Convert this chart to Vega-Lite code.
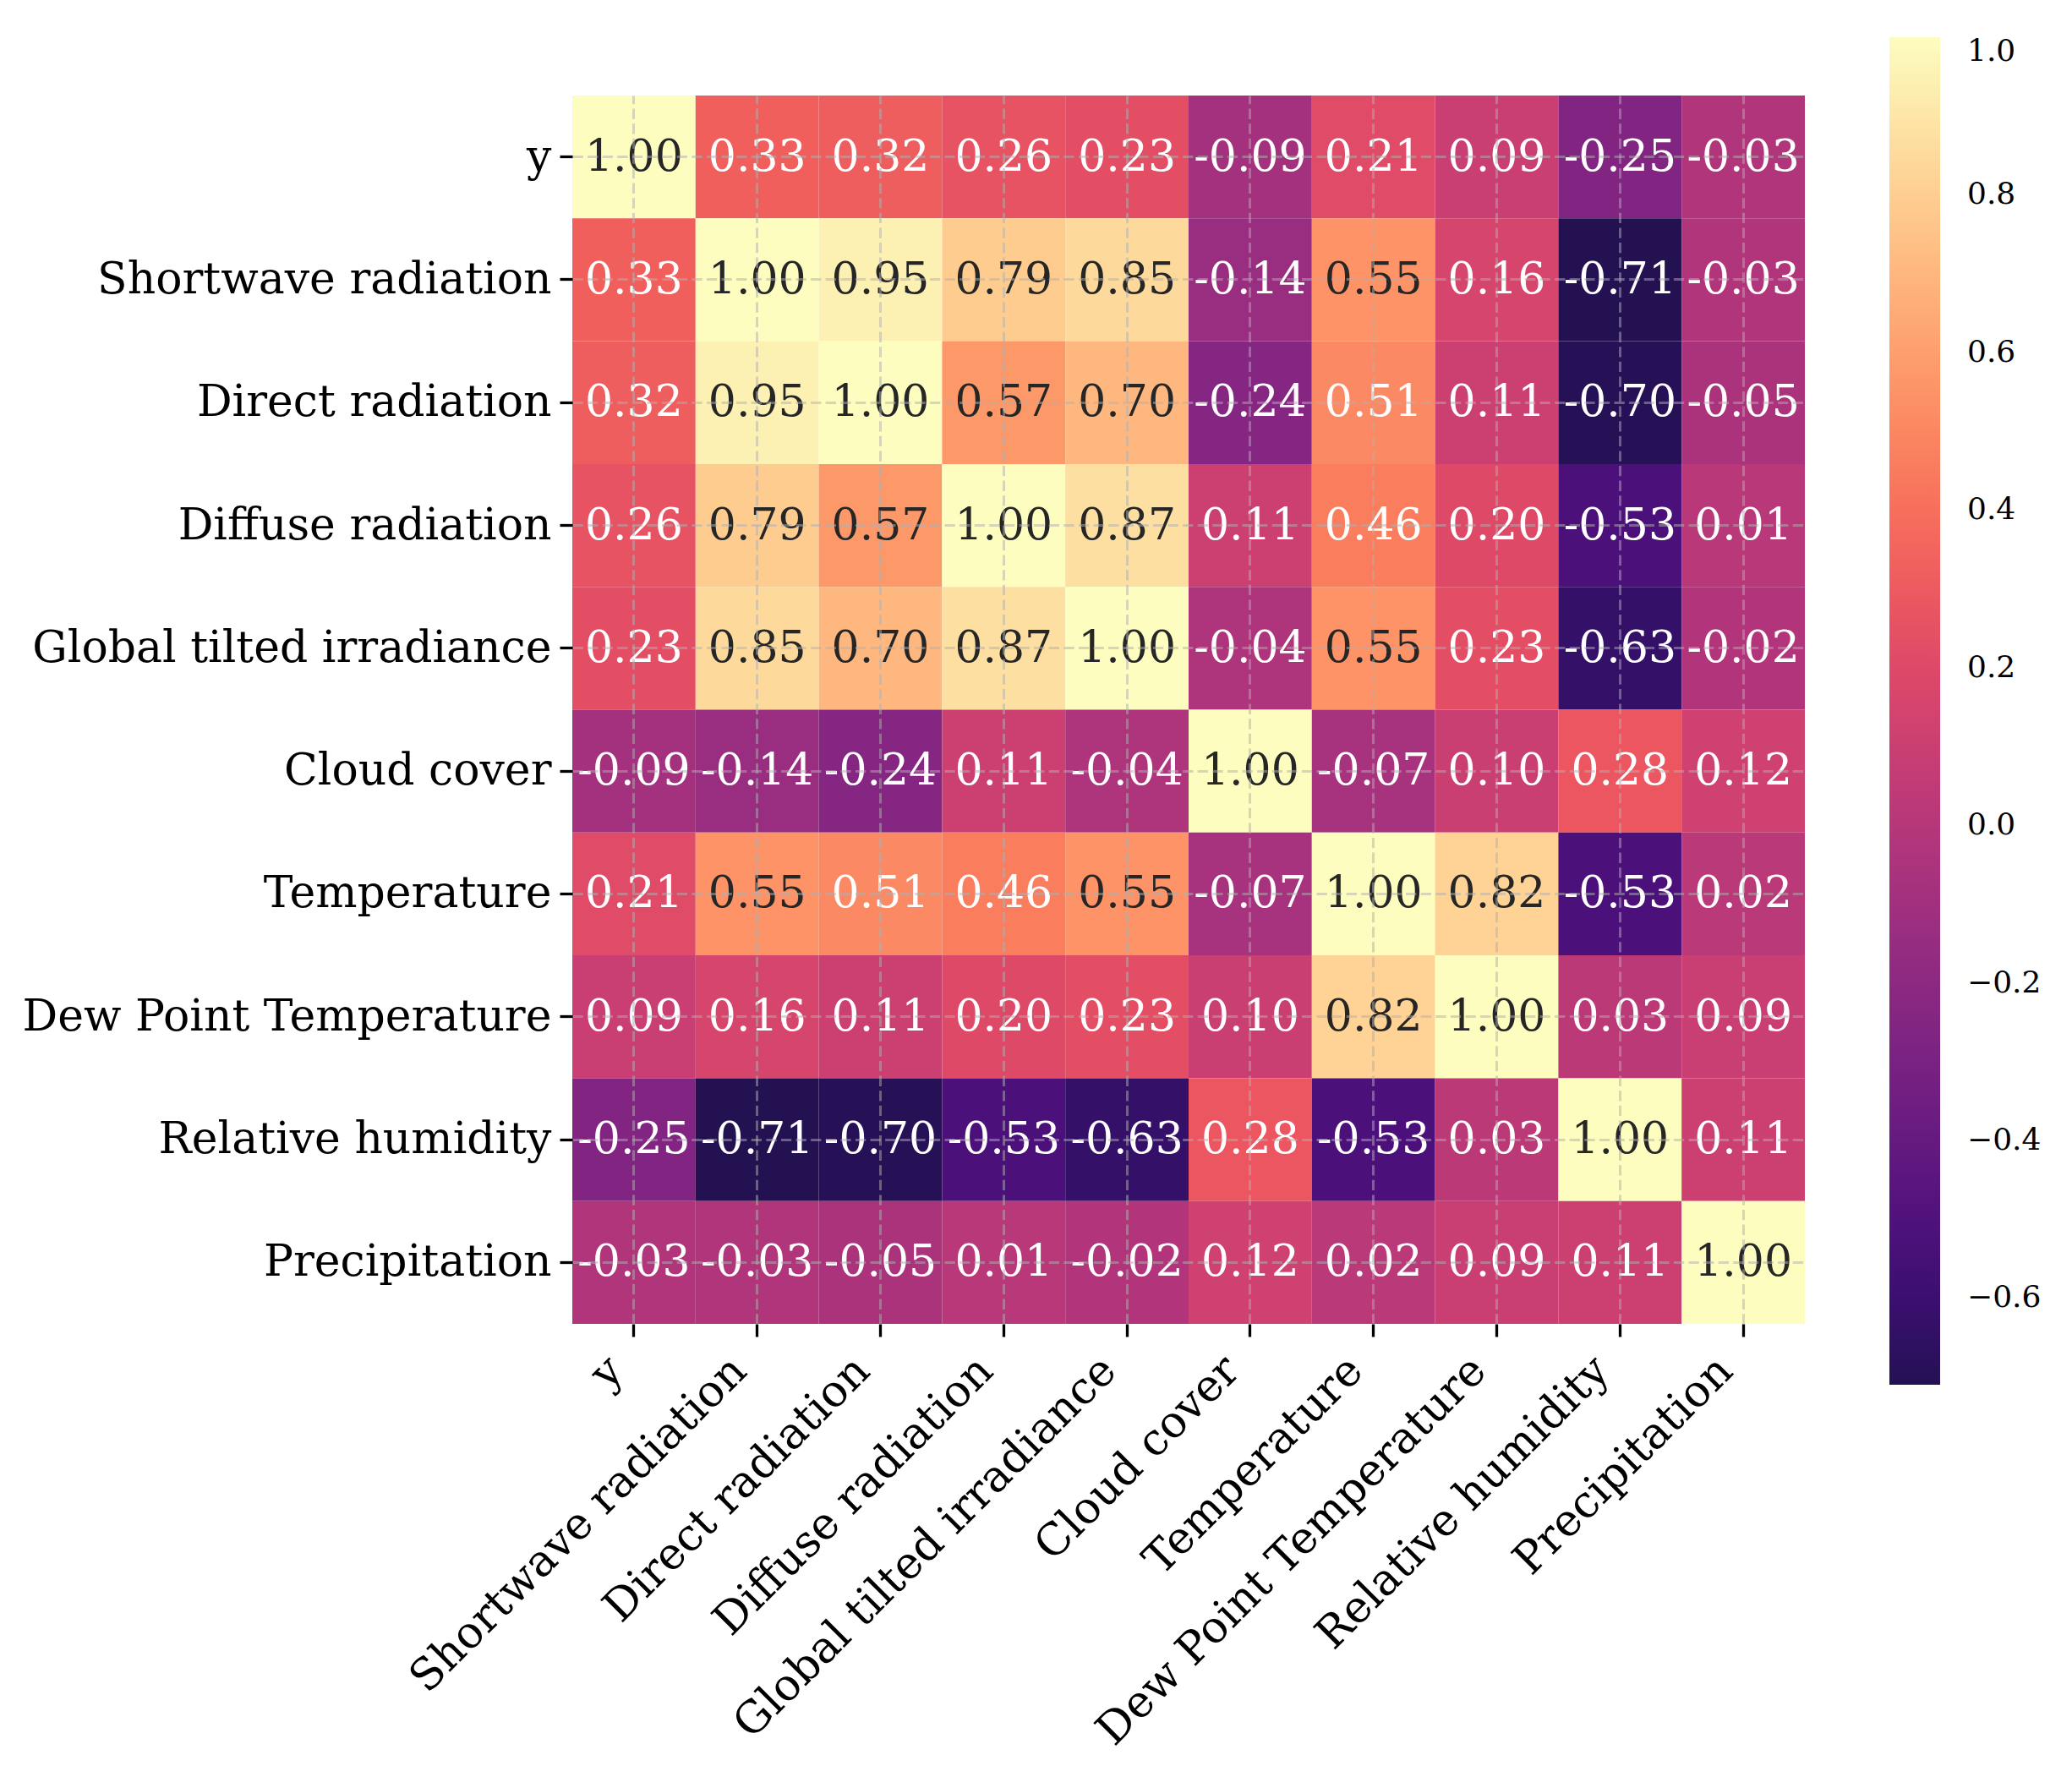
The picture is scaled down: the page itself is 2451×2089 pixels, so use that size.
{
  "$schema": "https://vega.github.io/schema/vega-lite/v6.json",
  "autosize": {"type": "none"},
  "width": 1458,
  "height": 1453,
  "padding": {"left": 677, "top": 113, "right": 316, "bottom": 523},
  "background": "white",
  "config": {
    "view": {"stroke": null},
    "locale": {"number": {"decimal": ".", "thousands": ",", "grouping": [3], "currency": ["$", ""], "minus": "-"}},
    "font": "DejaVu Serif"
  },
  "datasets": {
    "corr": [
      {"row": "y", "col": "y", "v": 1.00}, {"row": "y", "col": "Shortwave radiation", "v": 0.33}, {"row": "y", "col": "Direct radiation", "v": 0.32}, {"row": "y", "col": "Diffuse radiation", "v": 0.26}, {"row": "y", "col": "Global tilted irradiance", "v": 0.23}, {"row": "y", "col": "Cloud cover", "v": -0.09}, {"row": "y", "col": "Temperature", "v": 0.21}, {"row": "y", "col": "Dew Point Temperature", "v": 0.09}, {"row": "y", "col": "Relative humidity", "v": -0.25}, {"row": "y", "col": "Precipitation", "v": -0.03},
      {"row": "Shortwave radiation", "col": "y", "v": 0.33}, {"row": "Shortwave radiation", "col": "Shortwave radiation", "v": 1.00}, {"row": "Shortwave radiation", "col": "Direct radiation", "v": 0.95}, {"row": "Shortwave radiation", "col": "Diffuse radiation", "v": 0.79}, {"row": "Shortwave radiation", "col": "Global tilted irradiance", "v": 0.85}, {"row": "Shortwave radiation", "col": "Cloud cover", "v": -0.14}, {"row": "Shortwave radiation", "col": "Temperature", "v": 0.55}, {"row": "Shortwave radiation", "col": "Dew Point Temperature", "v": 0.16}, {"row": "Shortwave radiation", "col": "Relative humidity", "v": -0.71}, {"row": "Shortwave radiation", "col": "Precipitation", "v": -0.03},
      {"row": "Direct radiation", "col": "y", "v": 0.32}, {"row": "Direct radiation", "col": "Shortwave radiation", "v": 0.95}, {"row": "Direct radiation", "col": "Direct radiation", "v": 1.00}, {"row": "Direct radiation", "col": "Diffuse radiation", "v": 0.57}, {"row": "Direct radiation", "col": "Global tilted irradiance", "v": 0.70}, {"row": "Direct radiation", "col": "Cloud cover", "v": -0.24}, {"row": "Direct radiation", "col": "Temperature", "v": 0.51}, {"row": "Direct radiation", "col": "Dew Point Temperature", "v": 0.11}, {"row": "Direct radiation", "col": "Relative humidity", "v": -0.70}, {"row": "Direct radiation", "col": "Precipitation", "v": -0.05},
      {"row": "Diffuse radiation", "col": "y", "v": 0.26}, {"row": "Diffuse radiation", "col": "Shortwave radiation", "v": 0.79}, {"row": "Diffuse radiation", "col": "Direct radiation", "v": 0.57}, {"row": "Diffuse radiation", "col": "Diffuse radiation", "v": 1.00}, {"row": "Diffuse radiation", "col": "Global tilted irradiance", "v": 0.87}, {"row": "Diffuse radiation", "col": "Cloud cover", "v": 0.11}, {"row": "Diffuse radiation", "col": "Temperature", "v": 0.46}, {"row": "Diffuse radiation", "col": "Dew Point Temperature", "v": 0.20}, {"row": "Diffuse radiation", "col": "Relative humidity", "v": -0.53}, {"row": "Diffuse radiation", "col": "Precipitation", "v": 0.01},
      {"row": "Global tilted irradiance", "col": "y", "v": 0.23}, {"row": "Global tilted irradiance", "col": "Shortwave radiation", "v": 0.85}, {"row": "Global tilted irradiance", "col": "Direct radiation", "v": 0.70}, {"row": "Global tilted irradiance", "col": "Diffuse radiation", "v": 0.87}, {"row": "Global tilted irradiance", "col": "Global tilted irradiance", "v": 1.00}, {"row": "Global tilted irradiance", "col": "Cloud cover", "v": -0.04}, {"row": "Global tilted irradiance", "col": "Temperature", "v": 0.55}, {"row": "Global tilted irradiance", "col": "Dew Point Temperature", "v": 0.23}, {"row": "Global tilted irradiance", "col": "Relative humidity", "v": -0.63}, {"row": "Global tilted irradiance", "col": "Precipitation", "v": -0.02},
      {"row": "Cloud cover", "col": "y", "v": -0.09}, {"row": "Cloud cover", "col": "Shortwave radiation", "v": -0.14}, {"row": "Cloud cover", "col": "Direct radiation", "v": -0.24}, {"row": "Cloud cover", "col": "Diffuse radiation", "v": 0.11}, {"row": "Cloud cover", "col": "Global tilted irradiance", "v": -0.04}, {"row": "Cloud cover", "col": "Cloud cover", "v": 1.00}, {"row": "Cloud cover", "col": "Temperature", "v": -0.07}, {"row": "Cloud cover", "col": "Dew Point Temperature", "v": 0.10}, {"row": "Cloud cover", "col": "Relative humidity", "v": 0.28}, {"row": "Cloud cover", "col": "Precipitation", "v": 0.12},
      {"row": "Temperature", "col": "y", "v": 0.21}, {"row": "Temperature", "col": "Shortwave radiation", "v": 0.55}, {"row": "Temperature", "col": "Direct radiation", "v": 0.51}, {"row": "Temperature", "col": "Diffuse radiation", "v": 0.46}, {"row": "Temperature", "col": "Global tilted irradiance", "v": 0.55}, {"row": "Temperature", "col": "Cloud cover", "v": -0.07}, {"row": "Temperature", "col": "Temperature", "v": 1.00}, {"row": "Temperature", "col": "Dew Point Temperature", "v": 0.82}, {"row": "Temperature", "col": "Relative humidity", "v": -0.53}, {"row": "Temperature", "col": "Precipitation", "v": 0.02},
      {"row": "Dew Point Temperature", "col": "y", "v": 0.09}, {"row": "Dew Point Temperature", "col": "Shortwave radiation", "v": 0.16}, {"row": "Dew Point Temperature", "col": "Direct radiation", "v": 0.11}, {"row": "Dew Point Temperature", "col": "Diffuse radiation", "v": 0.20}, {"row": "Dew Point Temperature", "col": "Global tilted irradiance", "v": 0.23}, {"row": "Dew Point Temperature", "col": "Cloud cover", "v": 0.10}, {"row": "Dew Point Temperature", "col": "Temperature", "v": 0.82}, {"row": "Dew Point Temperature", "col": "Dew Point Temperature", "v": 1.00}, {"row": "Dew Point Temperature", "col": "Relative humidity", "v": 0.03}, {"row": "Dew Point Temperature", "col": "Precipitation", "v": 0.09},
      {"row": "Relative humidity", "col": "y", "v": -0.25}, {"row": "Relative humidity", "col": "Shortwave radiation", "v": -0.71}, {"row": "Relative humidity", "col": "Direct radiation", "v": -0.70}, {"row": "Relative humidity", "col": "Diffuse radiation", "v": -0.53}, {"row": "Relative humidity", "col": "Global tilted irradiance", "v": -0.63}, {"row": "Relative humidity", "col": "Cloud cover", "v": 0.28}, {"row": "Relative humidity", "col": "Temperature", "v": -0.53}, {"row": "Relative humidity", "col": "Dew Point Temperature", "v": 0.03}, {"row": "Relative humidity", "col": "Relative humidity", "v": 1.00}, {"row": "Relative humidity", "col": "Precipitation", "v": 0.11},
      {"row": "Precipitation", "col": "y", "v": -0.03}, {"row": "Precipitation", "col": "Shortwave radiation", "v": -0.03}, {"row": "Precipitation", "col": "Direct radiation", "v": -0.05}, {"row": "Precipitation", "col": "Diffuse radiation", "v": 0.01}, {"row": "Precipitation", "col": "Global tilted irradiance", "v": -0.02}, {"row": "Precipitation", "col": "Cloud cover", "v": 0.12}, {"row": "Precipitation", "col": "Temperature", "v": 0.02}, {"row": "Precipitation", "col": "Dew Point Temperature", "v": 0.09}, {"row": "Precipitation", "col": "Relative humidity", "v": 0.11}, {"row": "Precipitation", "col": "Precipitation", "v": 1.00}
    ]
  },
  "data": {"name": "corr"},
  "encoding": {
    "x": {
      "field": "col", "type": "nominal",
      "sort": ["y", "Shortwave radiation", "Direct radiation", "Diffuse radiation", "Global tilted irradiance", "Cloud cover", "Temperature", "Dew Point Temperature", "Relative humidity", "Precipitation"],
      "scale": {"paddingInner": 0, "paddingOuter": 0},
      "axis": {
        "title": null, "orient": "bottom", "bandPosition": 0.5, "domain": false,
        "labelAngle": -45, "labelAlign": "right", "labelBaseline": "top",
        "labelFont": "DejaVu Serif", "labelFontSize": 52, "labelColor": "black", "labelPadding": 14, "labelLimit": 0,
        "labelOffset": -39,
        "tickSize": 15, "tickWidth": 3.3, "tickColor": "black",
        "grid": true, "gridColor": "#b0b0b0", "gridOpacity": 0.5, "gridDash": [12.3, 5.3], "gridWidth": 3,
        "zindex": 1
      }
    },
    "y": {
      "field": "row", "type": "nominal",
      "sort": ["y", "Shortwave radiation", "Direct radiation", "Diffuse radiation", "Global tilted irradiance", "Cloud cover", "Temperature", "Dew Point Temperature", "Relative humidity", "Precipitation"],
      "scale": {"paddingInner": 0, "paddingOuter": 0},
      "axis": {
        "title": null, "bandPosition": 0.5, "domain": false,
        "labelFont": "DejaVu Serif", "labelFontSize": 52, "labelColor": "black", "labelPadding": 10, "labelLimit": 0,
        "tickSize": 15, "tickWidth": 3.3, "tickColor": "black",
        "grid": true, "gridColor": "#b0b0b0", "gridOpacity": 0.5, "gridDash": [12.3, 5.3], "gridWidth": 3,
        "zindex": 1
      }
    }
  },
  "layer": [
    {
      "mark": {"type": "rect"},
      "encoding": {
        "color": {
          "field": "v", "type": "quantitative",
          "scale": {"scheme": {"name": "magma", "extent": [0.145, 1]}, "domain": [-0.71, 1.0]},
          "legend": {
            "title": null, "orient": "none", "legendX": 1558, "legendY": -69,
            "direction": "vertical", "gradientLength": 1594, "gradientThickness": 60,
            "gradientStrokeWidth": 0, "padding": 0,
            "values": [-0.6, -0.4, -0.2, 0, 0.2, 0.4, 0.6, 0.8, 1.0],
            "labelExpr": "(datum.value < 0 ? '\u2212' : '') + format(abs(datum.value), '.1f')",
            "labelFont": "DejaVu Serif", "labelFontSize": 36, "labelColor": "black",
            "labelBaseline": "middle", "labelOffset": 32, "labelOverlap": false
          }
        }
      }
    },
    {
      "mark": {"type": "text", "font": "DejaVu Serif", "fontSize": 52, "baseline": "middle", "align": "center"},
      "encoding": {
        "text": {"field": "v", "type": "quantitative", "format": ".2f"},
        "color": {
          "condition": {"test": "datum.v >= 0.53", "value": "#262626"},
          "value": "#ffffff"
        }
      }
    }
  ]
}
